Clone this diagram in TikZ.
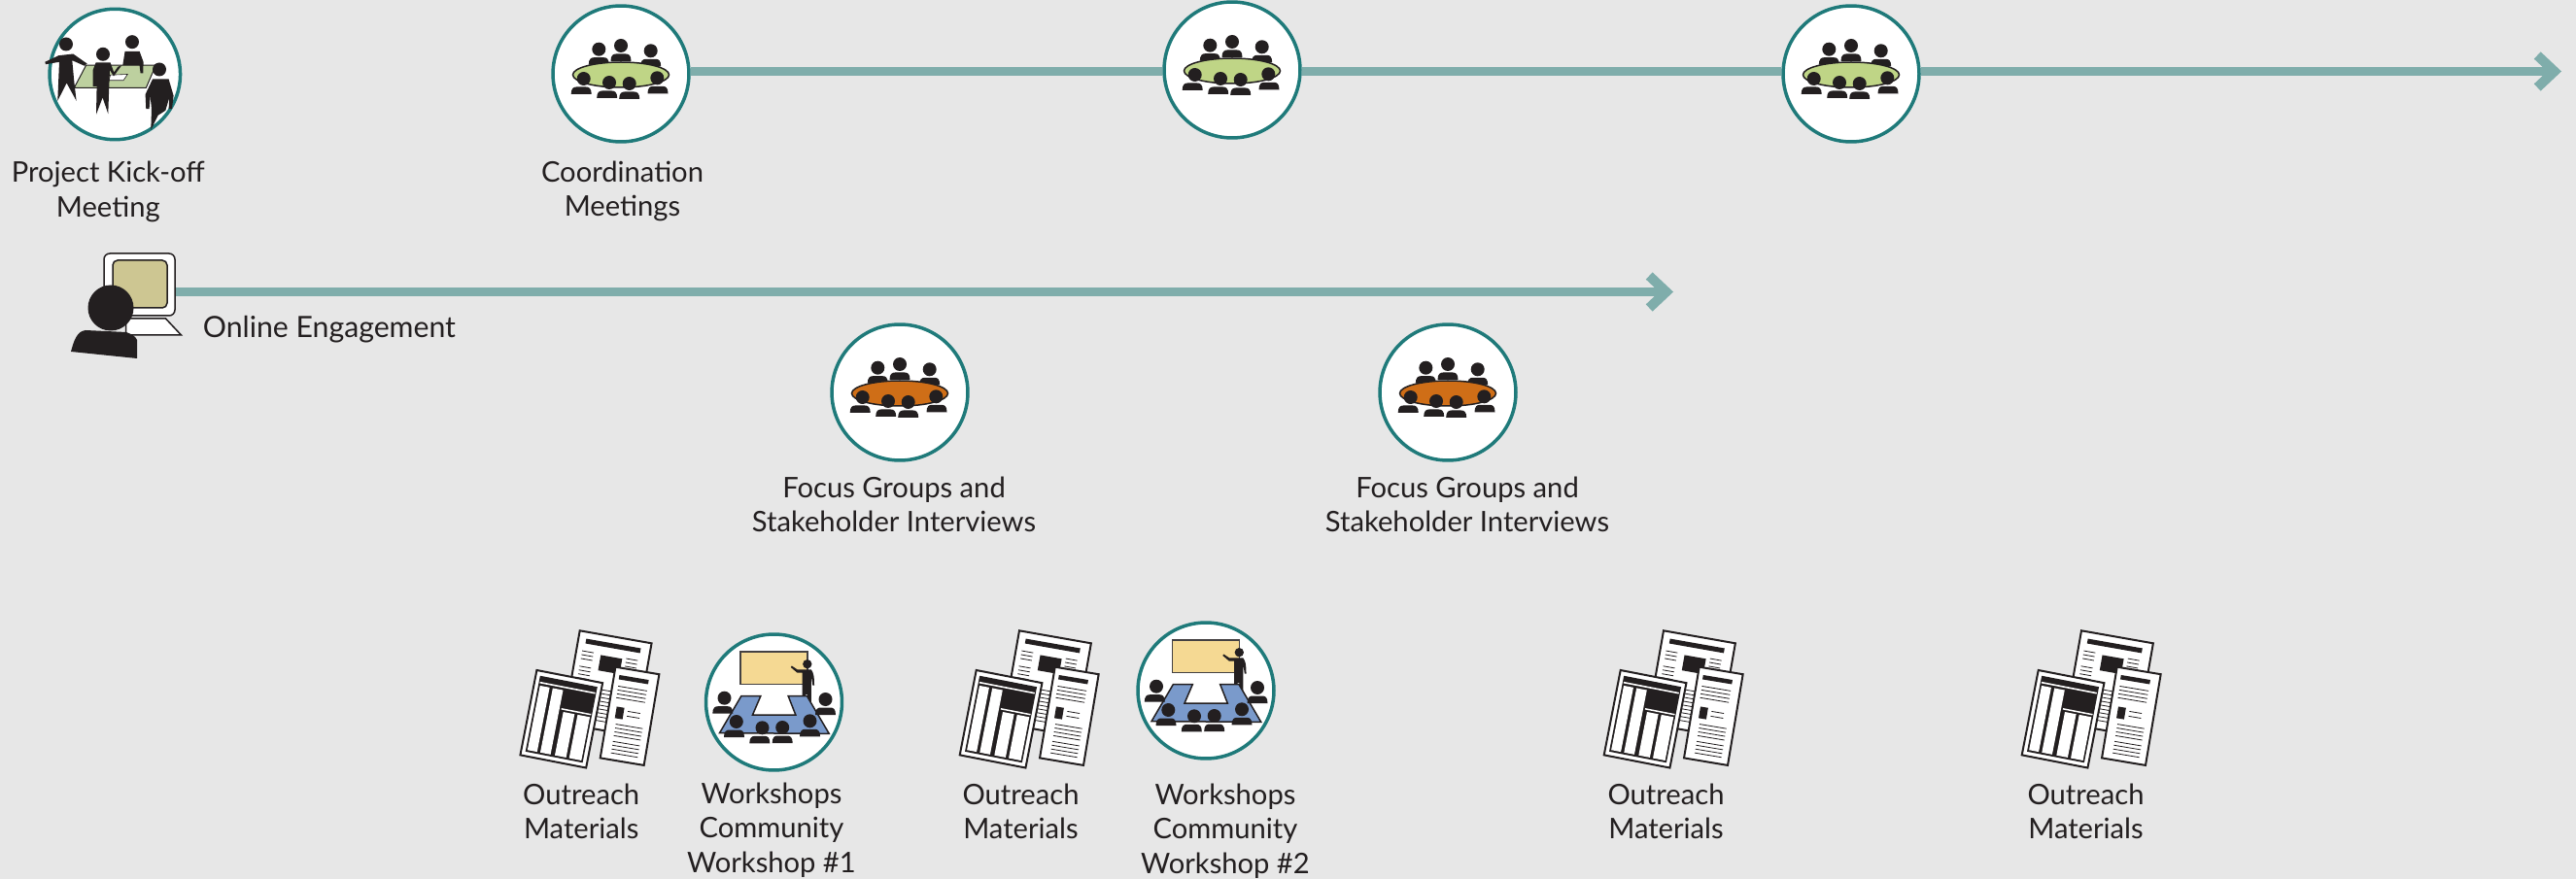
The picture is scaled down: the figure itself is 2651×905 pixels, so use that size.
\documentclass[tikz,border=0pt]{standalone}
\usepackage{fontspec}
\setmainfont{Lato}
\usepackage{tikz}
\usetikzlibrary{shapes,arrows,arrows.meta,calc}
\definecolor{backdrop}{HTML}{E7E7E7}
\definecolor{ink}{HTML}{231F20}
\definecolor{ringteal}{HTML}{1F7A7A}
\definecolor{railteal}{HTML}{7FADAB}
\definecolor{tablegreen}{HTML}{BFD586}
\definecolor{tableorange}{HTML}{CF6E17}
\definecolor{tableblue}{HTML}{7A9ACB}
\definecolor{kicktable}{HTML}{BDD09F}
\definecolor{screenyellow}{HTML}{F5D993}
\definecolor{monitortan}{HTML}{CDC692}
\tikzstyle{stage} = [draw=ringteal, fill=white, circle, line width=0.07cm, inner sep=0pt, minimum size=2.8cm]
\tikzstyle{iconbox} = [inner sep=0pt, minimum size=2.8cm]
\tikzstyle{caption} = [text=ink, align=center, inner sep=0pt, font=\fontsize{16.6}{20.2}\selectfont, node distance=2.42cm]
\tikzstyle{rail} = [draw=railteal, line width=0.19cm]
\tikzstyle{railend} = [rail, -{Straight Barb[length=0.35cm, width=0.66cm, line width=0.2cm]}]
\tikzstyle{paper} = [draw=ink, fill=white, line width=0.04cm]
\tikzstyle{textline} = [draw=ink, line width=0.016cm]
\tikzset{
  sitters/.pic={
    \foreach \hx/\hy/\bx in {#1} {
      \fill[ink] (\hx,\hy) circle (7);
      \fill[ink] (\hx+\bx-10.5,\hy+16) .. controls (\hx+\bx-10.5,\hy+10) and (\hx+\bx-8,\hy+8.5) .. (\hx+\bx-5,\hy+8.5)
        -- (\hx+\bx+5,\hy+8.5) .. controls (\hx+\bx+8,\hy+8.5) and (\hx+\bx+10.5,\hy+10) .. (\hx+\bx+10.5,\hy+16) -- cycle;
    }
  },
  roundtable/.pic={
    \pic {sitters={-22.7/-25.3/0, 0/-29/0, 30.7/-23.7/0}};
    \draw[ink, fill=#1, line width=0.03cm] (0,1) ellipse (49.5 and 13);
    \pic {sitters={-38.3/5/-2.5, -12/9/-2.3, 8.7/10/0, 37.3/4.3/0.7}};
  },
  workshop/.pic={
    \draw[ink!85, fill=screenyellow, line width=0.03cm] (-34.3,-52) rectangle (34.7,-18.3);
    \fill[ink] (34.3,-39.3) circle (4.7);
    \fill[ink] (17.3,-36) -- (18.3,-37.5) -- (24,-33.7) -- (38.3,-33.7) .. controls (41,-30) and (41.5,-26) .. (41.5,-17.5)
      -- (39.8,-17.5) -- (38.3,-27) -- (38.5,3) -- (35,-2) -- (34.3,-8) -- (32.5,-8) -- (32.5,-5) -- (29,-5) -- (29,-30.3) -- (24,-30.3) -- cycle;
    \draw[ink, fill=tableblue, line width=0.03cm] (-33.7,-6.3) -- (-13.7,-6.3) -- (-22,13) -- (22.3,13) -- (14.7,-6.3) -- (34,-6.3) -- (56.7,32.3) -- (-56,31.7) -- cycle;
    \pic {sitters={-51/-4.3/-1.7, 53/-3/0, -38.7/20/-2.3, -12/26.3/-2.7, 8.7/26/0, 37/19.3/0}};
  },
  kickoff/.pic={
    \draw[ink, fill=kicktable, line width=0.02cm] (-29.7,-9.3) -- (42,-9.3) -- (32,14) -- (-42,14) -- cycle;
    \draw[ink, fill=white, line width=0.012cm] (-4.7,0.7) -- (13,0) -- (8.7,6.3) -- (-6.3,6.3) -- cycle;
    \foreach \hx/\hy in {-50.3/-31, -12.3/-20.7, 17.7/-33.3, 45.7/-5} {
      \fill[ink] (\hx,\hy) circle (7);
    }
    \fill[ink] (-72,-12.7) -- (-58,-19.3) -- (-43,-21) -- (-28.7,-11) -- (-31.3,-8.7) -- (-44,-14.3) -- (-42,7.3) -- (-39.7,27.3) -- (-49.7,9) -- (-59,27.3) -- (-57.3,-12.7) -- (-71.3,-10.3) -- cycle;
    \fill[ink] (-19.7,-12) -- (-4.7,-12) -- (-1,-2) -- (3,-7.7) -- (7,-9.3) -- (-1.3,2) -- (-5.3,-4.3) -- (-6.3,20.7) -- (-7,40.7) -- (-12.7,24) -- (-19.3,41.3) -- (-18.7,12.3) -- (-22.7,12.3) -- (-22.7,-4.3) -- cycle;
    \fill[ink] (10.3,-23.7) -- (25.3,-23.7) -- (29.3,-12.7) -- (29,-1) -- (26.3,-1) -- (25.3,-9.3) -- (8,-9.3) -- cycle;
    \fill[ink] (38.7,5) -- (55.3,5) -- (60.3,22) -- (58.7,35.7) -- (55.3,35.7) -- (56,24) -- (52,37.3) -- (44.3,42.3) -- (37,57.3) -- (37.7,35.7) -- (36.3,22.3) -- (35.3,35.7) -- (32,35.7) -- (31.3,20.7) -- cycle;
  },
  monitor/.pic={
    \draw[ink, fill=white, line width=0.03cm] (-14,35) -- (27,35) -- (43,52) -- (-14,52) -- cycle;
    \draw[ink, fill=white, line width=0.03cm, rounded corners=0.12cm] (-36.5,-32) rectangle (36.5,32);
    \draw[ink, fill=monitortan, line width=0.03cm, rounded corners=0.1cm] (-27.5,-25) rectangle (28.5,24);
    \fill[ink] (-29.5,24) circle (23.5);
    \fill[ink] (-70.5,69) .. controls (-67.5,58) and (-64.5,48) .. (-55.5,47) -- (-13.5,49) .. controls (-7.5,51) and (-3.5,54) .. (-2.5,57) -- (-2.5,76) -- cycle;
  },
  newsletters/.pic={
    \begin{scope}[shift={(-10,-70.7)}, rotate=-10]
      \draw[paper] (0,0) rectangle (75,97);
      \fill[ink] (8,7) rectangle (65,12);
      \fill[ink] (25.6,21) rectangle (48,37);
      \foreach \ly in {20,24,28,36,40,44,48} {
        \draw[textline] (6,\ly) -- (18,\ly);
        \draw[textline] (52,\ly) -- (64,\ly);
      }
      \foreach \ly in {56,60,64,68,72,76,80,84,88} {
        \draw[textline] (6,\ly) -- (64,\ly);
      }
    \end{scope}
    \begin{scope}[shift={(26.7,-33.3)}, rotate=-9.5]
      \draw[paper] (0,0) rectangle (45.6,95);
      \fill[ink] (5.4,7.5) rectangle (36,12);
      \foreach \ly in {19,23,27,31} {
        \draw[textline] (6,\ly) -- (36,\ly);
      }
      \fill[ink] (8,40) rectangle (16,52);
      \foreach \ly in {43,48} {
        \draw[textline] (20,\ly) -- (33,\ly);
      }
      \foreach \ly in {58,62,66,70,76,80,84,88} {
        \draw[textline] (10,\ly) -- (38,\ly);
      }
    \end{scope}
    \begin{scope}[shift={(-54.3,-30)}, rotate=-11]
      \draw[paper] (0,0) rectangle (69,89);
      \fill[ink] (4.5,5) rectangle (64.5,84.5);
      \fill[white] (5.5,11) rectangle (63.5,12.6);
      \fill[white] (6.3,15) rectangle (16.4,82.5);
      \fill[white] (19.7,15) rectangle (30.5,82.5);
      \fill[white] (32.4,33.5) rectangle (63.5,35);
      \fill[white] (35,37) rectangle (46.8,82.5);
      \fill[white] (50,37) rectangle (62.8,82.5);
    \end{scope}
  }
}
\begin{document}
\begin{tikzpicture}[x=0.02cm, y=-0.02cm, node distance=2.4cm]
        \fill[backdrop] (0,0) rectangle (2651,905);
        \useasboundingbox (0,0) rectangle (2651,905);
        \coordinate (timelineend) at (2636,73.5);
        \coordinate (onlineend) at (1722,300.5);

        \node[iconbox, minimum size=0cm, minimum width=1.46cm, minimum height=1.28cm] (online) at (143.5,293) {};
        \node[stage, minimum size=2.69cm] (kickoffmeet) at (118.3,76.5) {};
        \node[stage] (coordfirst) at (639,76) {};
        \node[stage] (coordsecond) at (1268,72) {};
        \node[stage] (coordthird) at (1905,76) {};
        \node[stage] (focusfirst) at (926,404) {};
        \node[stage] (focussecond) at (1490,404) {};
        \node[stage] (workfirst) at (796.5,723) {};
        \node[stage] (worksecond) at (1241,711) {};
        \node[iconbox] (outreachfirst) at (606.7,720) {};
        \node[iconbox] (outreachsecond) at (1059,720) {};
        \node[iconbox] (outreachthird) at (1722,720) {};
        \node[iconbox] (outreachfourth) at (2152,720) {};

        \path[rail] (coordfirst.east |- timelineend) -- (coordsecond.west |- timelineend);
        \path[rail] (coordsecond.east |- timelineend) -- (coordthird.west |- timelineend);
        \path[railend] (coordthird.east |- timelineend) -- (timelineend);
        \path[railend] (online.east |- onlineend) -- (onlineend);

        \pic at (kickoffmeet) {kickoff};
        \pic at (coordfirst) {roundtable=tablegreen};
        \pic at (coordsecond) {roundtable=tablegreen};
        \pic at (coordthird) {roundtable=tablegreen};
        \pic at (focusfirst) {roundtable=tableorange};
        \pic at (focussecond) {roundtable=tableorange};
        \pic at (workfirst) {workshop};
        \pic at (worksecond) {workshop};
        \pic at (outreachfirst) {newsletters};
        \pic at (outreachsecond) {newsletters};
        \pic at (outreachthird) {newsletters};
        \pic at (outreachfourth) {newsletters};
        \pic at (online) {monitor};

        \node[caption, below of=kickoffmeet, xshift=-0.14cm] (kickofftext) {Project Kick-off\\Meeting};
        \node[caption, below of=coordfirst, xshift=0.03cm] (coordtext) {Coordination\\Meetings};
        \node[caption, right of=online, node distance=3.91cm, yshift=-0.93cm, font=\fontsize{17.2}{20.2}\selectfont] (onlinetext) {Online Engagement};
        \node[caption, below of=focusfirst, xshift=-0.12cm, node distance=2.31cm] (focusfirsttext) {Focus Groups and\\Stakeholder Interviews};
        \node[caption, below of=focussecond, xshift=0.4cm, node distance=2.31cm] (focussecondtext) {Focus Groups and\\Stakeholder Interviews};
        \node[caption, below of=workfirst, xshift=-0.05cm, node distance=2.63cm] (workfirsttext) {Workshops\\Community\\Workshop \#1};
        \node[caption, below of=worksecond, xshift=0.4cm, node distance=2.89cm] (worksecondtext) {Workshops\\Community\\Workshop \#2};
        \node[caption, below of=outreachfirst, xshift=-0.17cm, node distance=2.31cm] (outreachfirsttext) {Outreach\\Materials};
        \node[caption, below of=outreachsecond, xshift=-0.17cm, node distance=2.31cm] (outreachsecondtext) {Outreach\\Materials};
        \node[caption, below of=outreachthird, xshift=-0.15cm, node distance=2.31cm] (outreachthirdtext) {Outreach\\Materials};
        \node[caption, below of=outreachfourth, xshift=-0.11cm, node distance=2.31cm] (outreachfourthtext) {Outreach\\Materials};
    \end{tikzpicture}
\end{document}
